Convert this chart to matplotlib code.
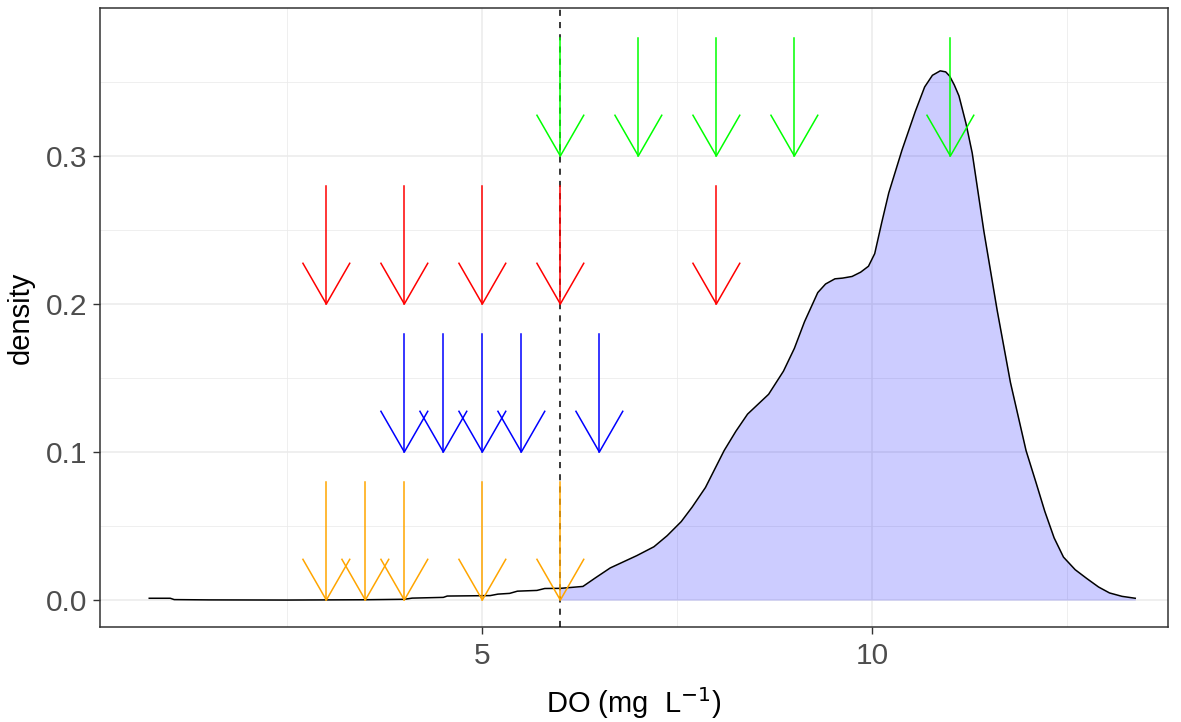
import numpy as np
import matplotlib
matplotlib.use("Agg")
import matplotlib.pyplot as plt

plt.rcParams['font.family'] = ['Liberation Sans', 'DejaVu Sans']

# density curve of DO
do_x = [0.73, 1.0, 1.05, 1.5, 2.5, 3.5, 4.0, 4.1, 4.5, 4.55, 5.1, 5.2, 5.35, 5.45,
        5.7, 5.8, 6.0, 6.29, 6.45, 6.64, 6.98, 7.2, 7.37, 7.55, 7.69, 7.86, 8.1,
        8.25, 8.4, 8.67, 8.86, 9.0, 9.13, 9.3, 9.4, 9.52, 9.62, 9.74, 9.85, 9.95,
        10.03, 10.12, 10.21, 10.38, 10.55, 10.67, 10.77, 10.87, 10.94, 10.99, 11.05,
        11.11, 11.2, 11.28, 11.43, 11.6, 11.77, 11.97, 12.1, 12.21, 12.33, 12.45,
        12.6, 12.75, 12.9, 13.04, 13.2, 13.37]
density = [0.0012, 0.0012, 0.0003, 0.0001, 0.0, 0.0002, 0.0005, 0.0013, 0.0018,
           0.0027, 0.003, 0.004, 0.0045, 0.006, 0.0065, 0.0078, 0.0079, 0.0092,
           0.015, 0.0217, 0.030, 0.036, 0.0435, 0.053, 0.0628, 0.076, 0.101,
           0.114, 0.1256, 0.139, 0.1546, 0.17, 0.188, 0.2077, 0.2135, 0.217,
           0.2175, 0.2186, 0.2215, 0.2255, 0.234, 0.255, 0.275, 0.304, 0.33,
           0.3466, 0.3545, 0.3575, 0.3568, 0.354, 0.348, 0.3406, 0.322, 0.302,
           0.249, 0.1957, 0.147, 0.101, 0.079, 0.060, 0.042, 0.029, 0.0205, 0.0145,
           0.0088, 0.0048, 0.0025, 0.0012]
threshold = 6

# arrow groups: x positions, start and end heights
green_x = [6, 7, 8, 9, 11]
red_x = [3, 4, 5, 6, 8]
blue_x = [4, 4.5, 5, 5.5, 6.5]
orange_x = [3, 3.5, 4, 5, 6]
groups = [
    (green_x, 0.38, 0.30, '#00FF00'),
    (red_x, 0.28, 0.20, '#FF0000'),
    (blue_x, 0.18, 0.10, '#0000FF'),
    (orange_x, 0.08, 0.0, '#FFA500'),
]

fig = plt.figure(figsize=(11.81, 7.22), dpi=100)
ax = fig.add_axes([0.0847, 0.1316, 0.9043, 0.8574])

do_x = np.array(do_x)
density = np.array(density)
mask = do_x >= threshold
ax.fill_between(do_x[mask], 0, density[mask], color='blue', alpha=0.2, lw=0, zorder=2)
ax.plot(do_x, density, color='black', lw=1.1, zorder=3)

ax.axvline(threshold, color='black', lw=1.1, dashes=(4, 4), zorder=3)

# open arrow heads, 30 degrees
hx = 0.30
hy = 0.0275
for xs, y0, y1, col in groups:
    for x in xs:
        ax.plot([x, x], [y0, y1], color=col, lw=1.1, zorder=4)
        ax.plot([x - hx, x, x + hx], [y1 + hy, y1, y1 + hy], color=col, lw=1.1, zorder=4)

ax.set_xlim(0.099, 13.79)
ax.set_ylim(-0.0182, 0.4)
ax.set_xticks([5, 10])
ax.set_xticks([2.5, 7.5, 12.5], minor=True)
ax.set_yticks([0.0, 0.1, 0.2, 0.3])
ax.set_yticklabels(['0.0', '0.1', '0.2', '0.3'])
ax.set_yticks([0.05, 0.15, 0.25, 0.35], minor=True)

ax.grid(which='major', color='#EBEBEB', lw=1.1, zorder=0)
ax.grid(which='minor', color='#EBEBEB', lw=0.55, zorder=0)
ax.set_axisbelow(True)
for s in ax.spines.values():
    s.set_color('#333333')
    s.set_linewidth(1.1)
ax.tick_params(which='major', length=5, width=1.0, color='#333333',
               labelsize=21.5, labelcolor='#4D4D4D', pad=4)
ax.tick_params(axis='x', which='major', pad=6)
ax.tick_params(which='minor', length=0)

ax.set_xlabel('DO (mg  L$^{-1}$)', fontsize=21, labelpad=11)
ax.set_ylabel('density', fontsize=21, labelpad=8)

fig.savefig('out.png', dpi=100)
